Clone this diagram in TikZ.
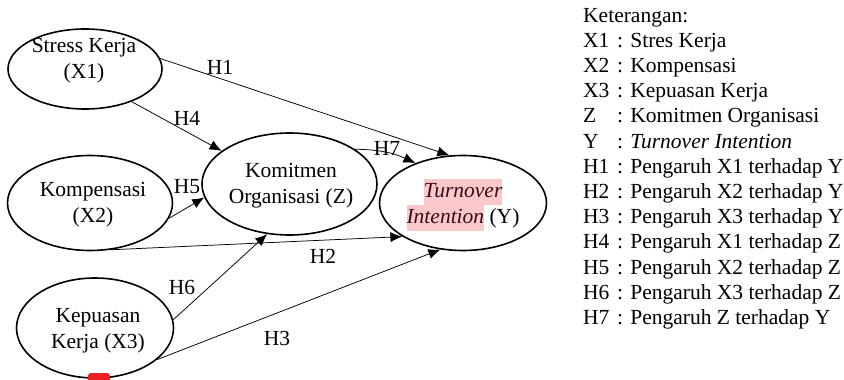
\documentclass[tikz,border=0pt]{standalone}
\usepackage{fontspec}
\setmainfont{Liberation Serif}
\usepackage{tikz}
\usetikzlibrary{shapes.geometric,arrows.meta}

\definecolor{hlpink}{RGB}{250,200,200}
\definecolor{hltext}{RGB}{60,10,25}
\definecolor{blobred}{RGB}{235,30,35}

\newcommand{\pinkbox}[1]{{\setlength{\fboxsep}{0pt}\colorbox{hlpink}{\strut\color{hltext}#1}}}
\newcommand{\legitem}[2]{\makebox[34pt][l]{#1}: #2}

\tikzset{
    latent/.style={draw, ellipse, line width=1.6pt, inner sep=0pt},
    vartext/.style={align=center, inner sep=0pt, font=\fontsize{21.5}{26}\selectfont},
    hyp/.style={inner sep=0pt, font=\fontsize{21.5}{26}\selectfont},
    legline/.style={anchor=base west, inner sep=0pt, font=\fontsize{21.5}{25}\selectfont},
    effect/.style={line width=0.75pt}
}

\begin{document}
\begin{tikzpicture}[x=1pt, y=-1pt, >={Latex[length=12pt,width=10pt]}]
    \useasboundingbox (0, 0) rectangle (844, 380);

    \node [latent, minimum width=154pt, minimum height=80pt] (x1) at (85, 69) {};
    \node [latent, minimum width=165pt, minimum height=95pt] (x2) at (90, 203) {};
    \node [latent, minimum width=157pt, minimum height=100pt] (x3) at (95, 328) {};
    \node [latent, minimum width=175pt, minimum height=102pt] (z) at (289.5, 184) {};
    \node [latent, minimum width=167pt, minimum height=95pt] (y) at (463, 203) {};

    \node [vartext] (x1txt) at (84, 61) {Stress Kerja\\(X1)};
    \node [vartext] (x2txt) at (93, 205) {Kompensasi\\(X2)};
    \node [vartext] (x3txt) at (98, 331) {Kepuasan\\Kerja (X3)};
    \node [vartext] (ztxt) at (291, 186) {Komitmen\\Organisasi (Z)};
    \node [vartext] (ytxt) at (463, 205) {\pinkbox{\textit{Turnover}}\\\pinkbox{\textit{Intention}} (Y)};

    \draw [->, effect] (x1.8) -- (y.106);
    \draw [->, effect] (x1.-35) -- (z.154);
    \draw [->, effect] (z.28) to [bend left=12] (y.140);
    \draw [->, effect] (x2.-11) -- (z.189);
    \draw [->, effect] (x2.-66) -- (y.209);
    \draw [->, effect] (x3.6) -- (z.246);
    \draw [->, effect] (x3.-27) -- (y.244);

    \node [hyp] (h1) at (220, 67) {H1};
    \node [hyp] (h2) at (323, 256) {H2};
    \node [hyp] (h3) at (277, 338) {H3};
    \node [hyp] (h4) at (187, 118) {H4};
    \node [hyp] (h5) at (187, 187) {H5};
    \node [hyp] (h6) at (182, 287) {H6};
    \node [hyp] (h7) at (387, 148) {H7};

    \fill [blobred, rounded corners=3pt] (88, 373) rectangle (110, 386);

    \node [legline] (keterangan) at (583, 22) {Keterangan:};
    \node [legline] (legx1) at (583, 47.2) {\legitem{X1}{Stres Kerja}};
    \node [legline] (legx2) at (583, 72.4) {\legitem{X2}{Kompensasi}};
    \node [legline] (legx3) at (583, 97.6) {\legitem{X3}{Kepuasan Kerja}};
    \node [legline] (legz) at (583, 122.8) {\legitem{Z}{Komitmen Organisasi}};
    \node [legline] (legy) at (583, 148) {\legitem{Y}{\textit{Turnover Intention}}};
    \node [legline] (legh1) at (583, 173.2) {\legitem{H1}{Pengaruh X1 terhadap Y}};
    \node [legline] (legh2) at (583, 198.4) {\legitem{H2}{Pengaruh X2 terhadap Y}};
    \node [legline] (legh3) at (583, 223.6) {\legitem{H3}{Pengaruh X3 terhadap Y}};
    \node [legline] (legh4) at (583, 248.8) {\legitem{H4}{Pengaruh X1 terhadap Z}};
    \node [legline] (legh5) at (583, 274) {\legitem{H5}{Pengaruh X2 terhadap Z}};
    \node [legline] (legh6) at (583, 299.2) {\legitem{H6}{Pengaruh X3 terhadap Z}};
    \node [legline] (legh7) at (583, 324.4) {\legitem{H7}{Pengaruh Z terhadap Y}};

\end{tikzpicture}
\end{document}
